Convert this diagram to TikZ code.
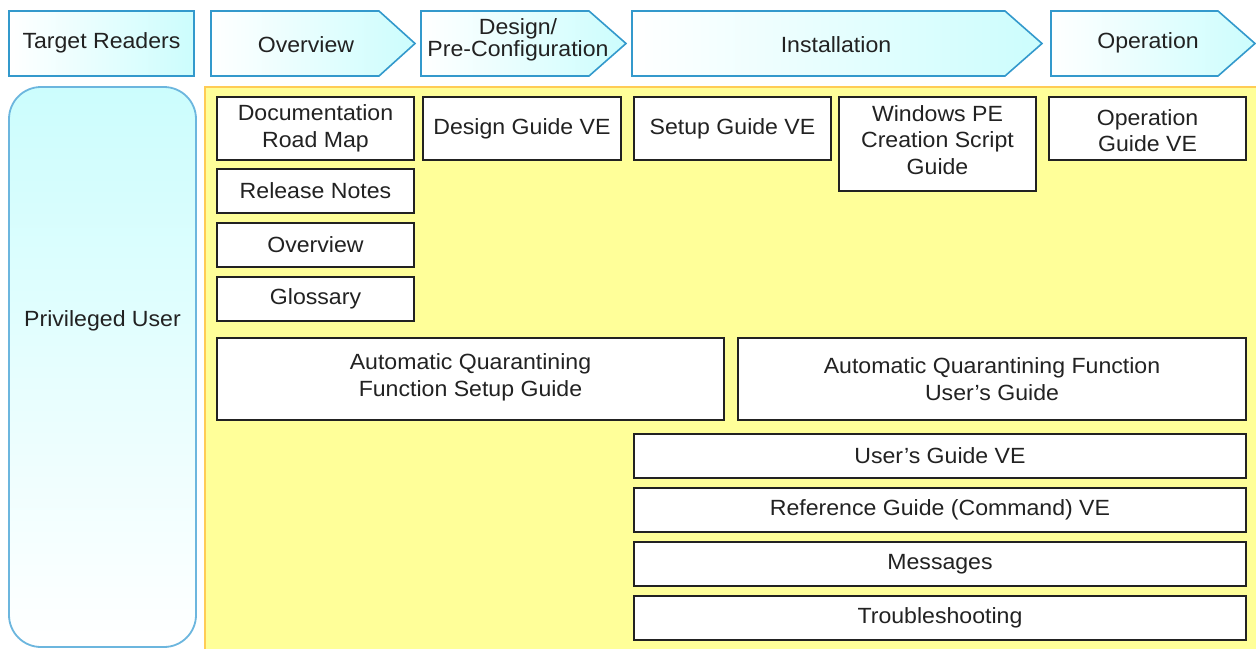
\documentclass[tikz,border=0pt]{standalone}
\usepackage{fontspec}
\setmainfont{Liberation Sans}[FakeStretch=1.05]
\definecolor{hdrblue}{HTML}{3399CC}
\definecolor{hdrcyan}{HTML}{CCFDFD}
\definecolor{userblue}{HTML}{6CB6DE}
\definecolor{bgyellow}{HTML}{FFFF99}
\definecolor{bgorange}{HTML}{FFCC55}
\definecolor{txt}{HTML}{222222}
\tikzset{
  hdrshape/.style={left color=white, right color=hdrcyan, draw=hdrblue, line width=1.6pt},
  hdrtext/.style={text=txt, inner sep=0pt, align=center, font=\fontsize{22}{22}\selectfont},
  doc/.style={draw=txt, fill=white, line width=1.6pt, inner sep=0pt, outer sep=0pt,
    text=txt, align=center, font=\fontsize{22}{26.5}\selectfont},
  doctext/.style={inner sep=0pt, text=txt, align=center, font=\fontsize{22}{26.5}\selectfont},
}
\begin{document}
\begin{tikzpicture}[x=1pt,y=-1pt]
\useasboundingbox (0,0) rectangle (1256,649);
% background area
\fill[bgyellow] (204,86) rectangle (1256,649);
\draw[bgorange, line width=2pt] (205,649) -- (205,87) -- (1256,87);
% header
\shadedraw[hdrshape] (9,11) rectangle (194,76);
\node[hdrtext] (htarget) at (101.5,43) {Target Readers};
\shadedraw[hdrshape] (211,11) -- (379,11) -- (415,43.5) -- (379,76) -- (211,76) -- cycle;
\node[hdrtext] (hoverview) at (306,44.5) {Overview};
\shadedraw[hdrshape] (421,11) -- (589,11) -- (626,43.5) -- (589,76) -- (421,76) -- cycle;
\node[hdrtext] (hdesign) at (518,39.5) {Design/\\Pre-Configuration};
\shadedraw[hdrshape] (632,11) -- (1005,11) -- (1042,43.5) -- (1005,76) -- (632,76) -- cycle;
\node[hdrtext] (hinstall) at (836,44.5) {Installation};
\shadedraw[hdrshape] (1051,11) -- (1218,11) -- (1255,43.5) -- (1218,76) -- (1051,76) -- cycle;
\node[hdrtext] (hoper) at (1148,43) {Operation};
% target reader
\shadedraw[top color=hdrcyan, bottom color=white, draw=userblue, line width=1.8pt, rounded corners=32pt] (9,87) rectangle (196,647);
\node[hdrtext] (priv) at (102.5,321) {Privileged User};
% documents
\node[doc, minimum width=197pt, minimum height=63pt] (roadmap) at (315.5,128.5) {Documentation\\Road Map};
\node[doc, minimum width=197pt, minimum height=44pt] (release) at (315.5,191) {Release Notes};
\node[doc, minimum width=197pt, minimum height=44pt] (overview) at (315.5,245) {Overview};
\node[doc, minimum width=197pt, minimum height=44pt] (glossary) at (315.5,299) {Glossary};
\node[doc, minimum width=198pt, minimum height=63pt] (design) at (522,128.5) {Design Guide VE};
\node[doc, minimum width=197pt, minimum height=63pt] (setup) at (732.5,128.5) {Setup Guide VE};
\node[doc, minimum width=197pt, minimum height=94pt] (winpe) at (937.5,144) {};
\node[doctext] (winpetext) at (937.5,140) {Windows PE\\Creation Script\\Guide};
\node[doc, minimum width=197pt, minimum height=63pt] (operation) at (1147.5,128.5) {};
\node[doctext] (operationtext) at (1147.5,130.5) {Operation\\Guide VE};
\node[doc, minimum width=507pt, minimum height=82pt] (aqsetup) at (470.5,379) {};
\node[doctext] (aqsetuptext) at (470.5,377.5) {Automatic Quarantining\\Function Setup Guide};
\node[doc, minimum width=508pt, minimum height=82pt] (aquser) at (992,379) {};
\node[doctext] (aqusertext) at (992,379) {Automatic Quarantining Function\\User's Guide};
\node[doc, minimum width=612pt, minimum height=44pt] (usersguide) at (940,456) {User's Guide VE};
\node[doc, minimum width=612pt, minimum height=44pt] (reference) at (940,510) {Reference Guide (Command) VE};
\node[doc, minimum width=612pt, minimum height=44pt] (messages) at (940,564) {Messages};
\node[doc, minimum width=612pt, minimum height=44pt] (trouble) at (940,618) {Troubleshooting};
\end{tikzpicture}
\end{document}
